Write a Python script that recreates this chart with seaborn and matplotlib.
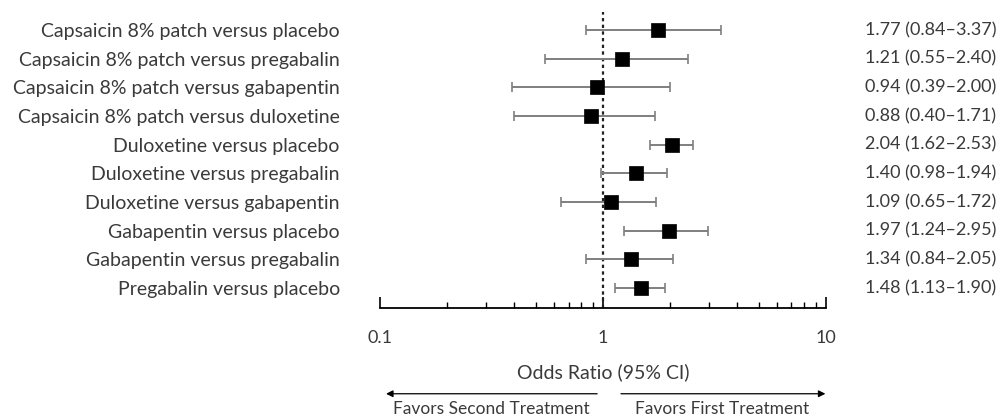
import seaborn as sns
import matplotlib.pyplot as plt
import pandas as pd
import numpy as np

sns.set_style("white")
plt.rcParams["font.family"] = ["Lato", "DejaVu Sans"]

# data
comparisons = [
    "Capsaicin 8% patch versus placebo",
    "Capsaicin 8% patch versus pregabalin",
    "Capsaicin 8% patch versus gabapentin",
    "Capsaicin 8% patch versus duloxetine",
    "Duloxetine versus placebo",
    "Duloxetine versus pregabalin",
    "Duloxetine versus gabapentin",
    "Gabapentin versus placebo",
    "Gabapentin versus pregabalin",
    "Pregabalin versus placebo",
]
odds_ratio = [1.77, 1.21, 0.94, 0.88, 2.04, 1.40, 1.09, 1.97, 1.34, 1.48]
ci_low = [0.84, 0.55, 0.39, 0.40, 1.62, 0.98, 0.65, 1.24, 0.84, 1.13]
ci_high = [3.37, 2.40, 2.00, 1.71, 2.53, 1.94, 1.72, 2.95, 2.05, 1.90]

df = pd.DataFrame({"Comparison": comparisons, "OR": odds_ratio,
                   "Low": ci_low, "High": ci_high})
df["row"] = np.arange(len(df))

text_col = "#3a3a3a"

fig = plt.figure(figsize=(10.03, 4.19), dpi=100)
ax = fig.add_axes([0.379, 0.265, 0.4445, 0.706])

# confidence intervals
ax.errorbar(df["OR"], df["row"],
            xerr=[df["OR"] - df["Low"], df["High"] - df["OR"]],
            fmt="none", ecolor="#7f7f7f", elinewidth=1.4, capsize=3.5,
            capthick=1.2, zorder=2)

# point estimates
sns.scatterplot(data=df, x="OR", y="row", marker="s", s=110,
                color="black", edgecolor="black", linewidth=0.5,
                ax=ax, zorder=3, legend=False)

# line of no effect
ax.axvline(1, color="#222222", linestyle=(0, (1.5, 1.5)), linewidth=1.6, zorder=1)

ax.set_xscale("log")
ax.set_xlim(0.1, 10)
ax.set_ylim(9.7, -0.63)

ax.set_xticks([0.1, 1, 10], ["0.1", "1", "10"])
ax.tick_params(axis="x", which="both", bottom=True, direction="in",
               color="black")
ax.tick_params(axis="x", which="major", length=8, width=1.2,
               labelsize=13, labelcolor=text_col, pad=16)
ax.tick_params(axis="x", which="minor", length=4.5, width=1.0)

ax.set_yticks(df["row"], df["Comparison"])
ax.tick_params(axis="y", length=0, labelsize=14, labelcolor=text_col, pad=29)

for side in ["left", "top", "right"]:
    ax.spines[side].set_visible(False)
ax.spines["bottom"].set_linewidth(1.3)
ax.spines["bottom"].set_color("black")

ax.set_xlabel("Odds Ratio (95% CI)", fontsize=14, color=text_col, labelpad=12)
ax.set_ylabel("")

# OR (CI) text column on the right
ytrans = ax.get_yaxis_transform()
for i, r in df.iterrows():
    ax.text(1.087, r["row"], f"{r['OR']:.2f} ({r['Low']:.2f}\u2013{r['High']:.2f})",
            transform=ytrans, ha="left", va="center", fontsize=13,
            color=text_col)

# direction arrows
ax.annotate("", xy=(0.007, -0.29), xytext=(0.493, -0.29),
            xycoords="axes fraction", textcoords="axes fraction",
            arrowprops=dict(arrowstyle="-|>", color="black", lw=0.9,
                            mutation_scale=10), annotation_clip=False)
ax.annotate("", xy=(1.005, -0.29), xytext=(0.534, -0.29),
            xycoords="axes fraction", textcoords="axes fraction",
            arrowprops=dict(arrowstyle="-|>", color="black", lw=0.9,
                            mutation_scale=10), annotation_clip=False)
ax.text(0.25, -0.342, "Favors Second Treatment", transform=ax.transAxes,
        ha="center", va="center", fontsize=12.5, color=text_col)
ax.text(0.767, -0.342, "Favors First Treatment", transform=ax.transAxes,
        ha="center", va="center", fontsize=12.5, color=text_col)

fig.savefig("out.png", dpi=100)
plt.close(fig)
